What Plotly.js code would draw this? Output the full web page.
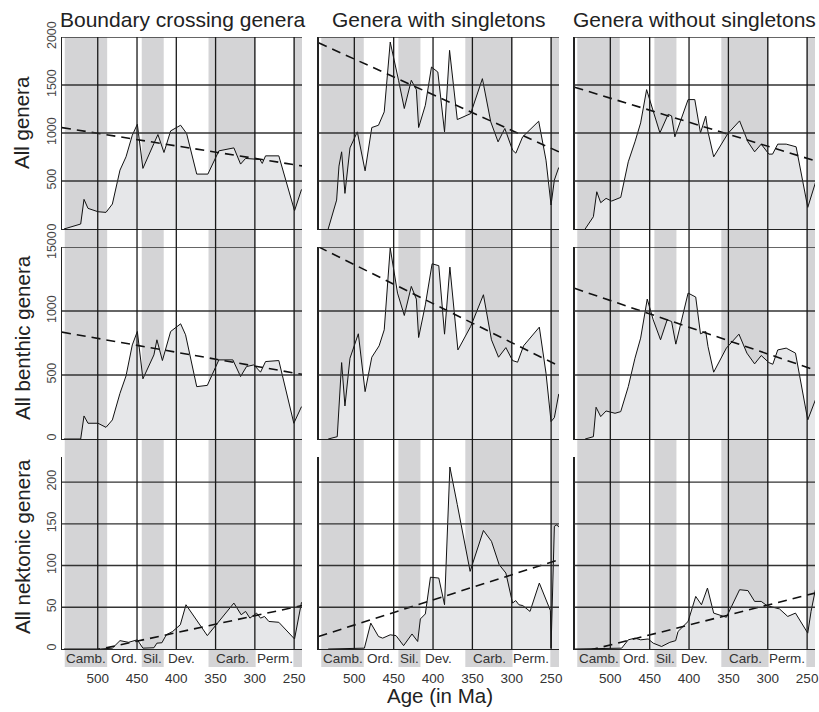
<!DOCTYPE html>
<html><head><meta charset="utf-8">
<script src="https://cdn.plot.ly/plotly-3.0.1.min.js"></script>
<style>html,body{margin:0;padding:0;background:#fff}</style>
</head><body><div id="chart" style="width:819px;height:712px"></div>
<script>
// ---------- DATA ----------
const colTitles = ['Boundary crossing genera', 'Genera with singletons', 'Genera without singletons'];
const rowTitles = ['All genera', 'All benthic genera', 'All nektonic genera'];
const xAxisTitle = 'Age (in Ma)';
const xTickVals = [500, 450, 400, 350, 300, 250];
const xTickText = ['500', '450', '400', '350', '300', '250'];
const yTicksRow1 = [0, 500, 1000, 1500, 2000];
const yTicksRow2 = [0, 500, 1000, 1500];
const yTicksRow3 = [0, 50, 100, 150, 200];
const yRangeRow1 = [0, 2000];
const yRangeRow2 = [0, 1500];
const yRangeRow3 = [0, 230];
const ageRange = [545.5, 240];

const periodNames = ['Camb.', 'Ord.', 'Sil.', 'Dev.', 'Carb.', 'Perm.'];
const periodLabelAge = [515, 467, 430, 393, 328, 275];
const shadedPeriodStart = [542, 444, 359, 251];
const shadedPeriodEnd = [488, 416, 299, 240];

// Boundary crossing
const bcAllAge = [543, 521.7, 517.5, 512.4, 499.7, 489.5, 481.4, 471.7, 464, 456, 449.6, 442.5, 428.5, 423.4, 415.7, 407.2, 394.5, 386.9, 374, 359.8, 345.8, 326.7, 318.2, 311.8, 293.6, 290.6, 286.4, 269.5, 249.5, 240.6];
const bcAllVal = [0, 52, 309, 215, 180, 173, 260, 613, 752, 977, 1091, 631, 891, 984, 797, 1022, 1081, 995, 572, 572, 814, 845, 676, 735, 724, 683, 762, 762, 190, 412];
const bcBenAge = [543, 521.7, 517.5, 512.4, 499.7, 489.5, 481.4, 471.7, 464, 456, 449.6, 442.5, 428.5, 424.7, 417.7, 407.2, 394.5, 388.2, 374, 360.5, 345.8, 328, 318.2, 310.6, 301.3, 292.8, 286.4, 269.5, 250.4, 240.6];
const bcBenVal = [0, 0, 180, 123, 123, 91, 149, 357, 493, 735, 840, 470, 657, 775, 613, 840, 900, 814, 409, 419, 618, 618, 488, 566, 579, 522, 605, 613, 123, 253];
const bcNekAge = [543, 496.3, 481.4, 471.7, 460.8, 449.6, 442.5, 428.5, 424.7, 418.3, 412.8, 404.7, 394.9, 387.7, 360.5, 326.7, 317.4, 311.8, 306.3, 297.8, 292.8, 287.7, 282.2, 269.5, 249.5, 240.6];
const bcNekVal = [0, 0, 1, 10, 8, 11, 1, 1.5, 7, 7.5, 17, 21, 29, 53, 16, 55, 41, 45, 37, 43, 37, 39, 33, 32, 12, 56];

// With singletons
const wsAllAge = [533.2, 522.5, 519.5, 516.1, 511.9, 505.5, 496.2, 486.3, 477.8, 469.3, 462, 454.4, 443.8, 436.5, 427.6, 421.2, 418.3, 409.8, 402, 393.9, 385.4, 379, 369.2, 352.2, 337.3, 326.7, 317.4, 308.8, 299, 294.8, 286.2, 265.8, 256.5, 250.1, 245.9, 240.3];
const wsAllVal = [0, 301, 655, 804, 371, 845, 1012, 606, 1057, 1081, 1220, 1947, 1549, 1255, 1549, 1452, 1057, 1289, 1687, 1635, 1012, 1861, 1140, 1202, 1566, 1116, 908, 1047, 821, 790, 960, 1123, 717, 250, 510, 641];
const wsBenAge = [533.2, 521.7, 516.1, 511.9, 505.5, 494.9, 486.3, 477.8, 468.5, 462, 454.4, 445.1, 436.5, 427.6, 421.2, 418.3, 409.8, 401.2, 392.7, 385.4, 378.6, 368.4, 352.2, 336, 325.8, 316.8, 307.5, 299, 292.6, 285, 265, 256.5, 250.1, 245.9, 240.3];
const wsBenVal = [0, 18, 597, 258, 631, 822, 370, 639, 728, 853, 1492, 1140, 965, 1192, 1093, 793, 1048, 1369, 1354, 819, 1343, 696, 879, 1127, 775, 639, 714, 613, 600, 728, 874, 514, 136, 167, 352];
const wsNekAge = [533.2, 487.2, 479.1, 469.3, 464, 454.4, 447, 437.4, 426.7, 419.5, 416.1, 409.8, 403.3, 392.7, 385.4, 378.6, 369.2, 352.9, 336, 325.8, 316, 307.5, 299, 295, 290.9, 286, 276.8, 265, 250.9, 250.1, 245.9, 242.4, 240.3];
const wsNekVal = [0, 1, 31, 15, 13, 17, 16, 4, 18, 9, 36, 42, 86, 85, 53, 218, 173, 93, 142, 129, 101, 91, 55, 58, 53, 52, 45, 79, 46, 1, 147, 149, 146];

// Without singletons
const woAllAge = [532, 521.5, 517.2, 512.2, 505.4, 498.3, 486.8, 477.2, 468.7, 461.5, 453.9, 445.5, 437, 426.5, 422.2, 418, 401.2, 392.7, 385.5, 378.8, 375.9, 368.7, 350.6, 335.8, 325.2, 316.7, 308.3, 298.6, 293.9, 287.3, 276.6, 264, 249.2, 239.5];
const woAllVal = [0, 128, 388, 274, 319, 291, 329, 700, 908, 1105, 1452, 1220, 1001, 1195, 1178, 960, 1348, 1348, 1001, 1175, 1012, 752, 995, 1126, 908, 804, 884, 780, 780, 884, 884, 856, 225, 481];
const woBenAge = [532, 521.5, 518.1, 512.2, 505.4, 494, 486.8, 477.2, 468.7, 461.5, 453.1, 445.5, 436.2, 427.8, 422.2, 416.8, 401.2, 391.5, 385.5, 378.8, 375.9, 368.7, 352.6, 336.6, 326.5, 316.7, 308.3, 298.6, 293.6, 287.3, 276.6, 264.8, 249.2, 239.5];
const woBenVal = [0, 18, 248, 175, 219, 201, 214, 409, 631, 788, 1093, 931, 775, 931, 918, 741, 1140, 1109, 822, 840, 722, 522, 710, 819, 671, 587, 652, 597, 584, 696, 710, 671, 149, 305];
const woNekAge = [545, 485.6, 477.2, 468.7, 461.5, 451.9, 445.5, 434.9, 424.4, 417, 414, 401.2, 391.5, 384.2, 376.6, 368.7, 352.6, 335.8, 325.2, 316.7, 308.3, 301.2, 285.1, 274.6, 264.8, 249.2, 245, 239.5];
const woNekVal = [0, 1, 11, 13, 11, 12, 7, 3, 8, 10, 21, 33, 63, 53, 73, 43, 38, 71, 70, 57, 57, 52, 48, 39, 43, 19, 45, 71];

// Regression (trend) line values at the two ends of the age span
const trendAge = [545.5, 240];
const bcAllTrend = [1056, 657];
const bcBenTrend = [835, 505];
const bcNekTrend = [-10, 52];
const wsAllTrend = [1940, 803];
const wsBenTrend = [1501, 570];
const wsNekTrend = [15, 107];
const woAllTrend = [1477, 711];
const woBenTrend = [1177, 539];
const woNekTrend = [-6, 67];

// ---------- LAYOUT HELPERS ----------
const W = 819, H = 712;
const px = v => v / W;
const py = v => 1 - v / H;
const colDom = [[62, 302], [318.5, 559], [574.5, 815]];
const rowDom = [[37, 229], [247, 439], [457, 649]];
const stripBottom = 667;

const series = [
  [[bcAllAge, bcAllVal, bcAllTrend], [wsAllAge, wsAllVal, wsAllTrend], [woAllAge, woAllVal, woAllTrend]],
  [[bcBenAge, bcBenVal, bcBenTrend], [wsBenAge, wsBenVal, wsBenTrend], [woBenAge, woBenVal, woBenTrend]],
  [[bcNekAge, bcNekVal, bcNekTrend], [wsNekAge, wsNekVal, wsNekTrend], [woNekAge, woNekVal, woNekTrend]]
];
const rowTicks = [yTicksRow1, yTicksRow2, yTicksRow3];
const rowRanges = [yRangeRow1, yRangeRow2, yRangeRow3];

const FONT = 'Liberation Sans, Arial, sans-serif';
const bandColor = '#d4d4d6';
const fillColor = '#e6e7e9';
const gridColor = '#333';

const traces = [], shapes = [], annotations = [];
const layout = {
  width: W, height: H, margin: {l: 0, r: 0, t: 0, b: 0},
  paper_bgcolor: '#fff', plot_bgcolor: 'rgba(0,0,0,0)',
  showlegend: false, font: {family: FONT, color: '#222'}
};

for (let r = 0; r < 3; r++) {
  for (let c = 0; c < 3; c++) {
    const i = r * 3 + c;
    const sfx = i === 0 ? '' : String(i + 1);
    const xa = 'x' + sfx, ya = 'y' + sfx;
    const [ages, vals, trend] = series[r][c];
    layout['xaxis' + sfx] = {
      domain: [px(colDom[c][0]), px(colDom[c][1])],
      anchor: ya, range: ageRange, showgrid: false, zeroline: false,
      showline: true, linecolor: '#222', linewidth: 1.3,
      tickvals: xTickVals, ticktext: xTickText, ticks: '',
      showticklabels: r === 2, ticklabelstandoff: 16, ticklabeloverflow: 'allow',
      tickfont: {family: FONT, size: 13.5, color: '#333'}
    };
    layout['yaxis' + sfx] = {
      domain: [py(rowDom[r][1]), py(rowDom[r][0])],
      anchor: xa, range: rowRanges[r], showgrid: false, zeroline: false,
      showline: true, linecolor: '#222', linewidth: 1.3,
      tickvals: rowTicks[r], ticks: '', tickangle: -90,
      showticklabels: c === 0, ticklabelstandoff: 0, ticklabeloverflow: 'allow',
      tickfont: {family: FONT, size: 12.5, color: '#444'}
    };
    traces.push({
      type: 'scatter', mode: 'lines', x: ages, y: vals, xaxis: xa, yaxis: ya,
      fill: 'tozeroy', fillcolor: fillColor,
      line: {color: '#111', width: 1}, hoverinfo: 'skip'
    });
    traces.push({
      type: 'scatter', mode: 'lines', x: trendAge, y: trend, xaxis: xa, yaxis: ya,
      line: {color: '#111', width: 1.6, dash: '9px,6px'}, hoverinfo: 'skip'
    });
    // horizontal grid lines (drawn above the fill)
    rowTicks[r].forEach(v => {
      if (v === 0) return;
      shapes.push({type: 'line', layer: 'above', xref: xa + ' domain', yref: ya,
        x0: 0, x1: 1, y0: v, y1: v, line: {color: gridColor, width: 1.3}});
    });
  }
}

// Column-wide period bands, vertical lines and period labels
for (let c = 0; c < 3; c++) {
  const sfx = String(6 + c + 1);
  const xa = 'x' + sfx;
  shadedPeriodStart.forEach((s, k) => {
    shapes.push({type: 'rect', layer: 'below', xref: xa, yref: 'paper',
      x0: s, x1: shadedPeriodEnd[k], y0: py(stripBottom), y1: py(rowDom[0][0]),
      fillcolor: bandColor, line: {width: 0}});
  });
  xTickVals.forEach(v => {
    shapes.push({type: 'line', layer: 'above', xref: xa, yref: 'paper',
      x0: v, x1: v, y0: py(rowDom[2][1]), y1: py(rowDom[0][0]),
      line: {color: '#1a1a1a', width: 1.3}});
  });
  periodNames.forEach((n, k) => {
    annotations.push({text: n, xref: xa, yref: 'paper', x: periodLabelAge[k], y: py(658),
      showarrow: false, xanchor: 'center', yanchor: 'middle', borderpad: 0,
      font: {family: FONT, size: 13.5, color: '#333'}});
  });
  annotations.push({text: colTitles[c], xref: 'paper', yref: 'paper',
    x: px((colDom[c][0] + colDom[c][1]) / 2), y: py(20), showarrow: false,
    xanchor: 'center', yanchor: 'middle', font: {family: FONT, size: 21, color: '#222'}});
}
const rowTitleY = [123, 338, 547];
for (let r = 0; r < 3; r++) {
  annotations.push({text: rowTitles[r], xref: 'paper', yref: 'paper',
    x: px(22), y: py(rowTitleY[r]), textangle: -90, showarrow: false,
    xanchor: 'center', yanchor: 'middle', font: {family: FONT, size: 20.5, color: '#222'}});
}
annotations.push({text: xAxisTitle, xref: 'paper', yref: 'paper',
  x: px(440), y: py(695), showarrow: false, xanchor: 'center', yanchor: 'middle', borderpad: 0,
  font: {family: FONT, size: 20.5, color: '#222'}});

layout.shapes = shapes;
layout.annotations = annotations;
Plotly.newPlot('chart', traces, layout, {staticPlot: true, displayModeBar: false});
</script>
</body></html>
